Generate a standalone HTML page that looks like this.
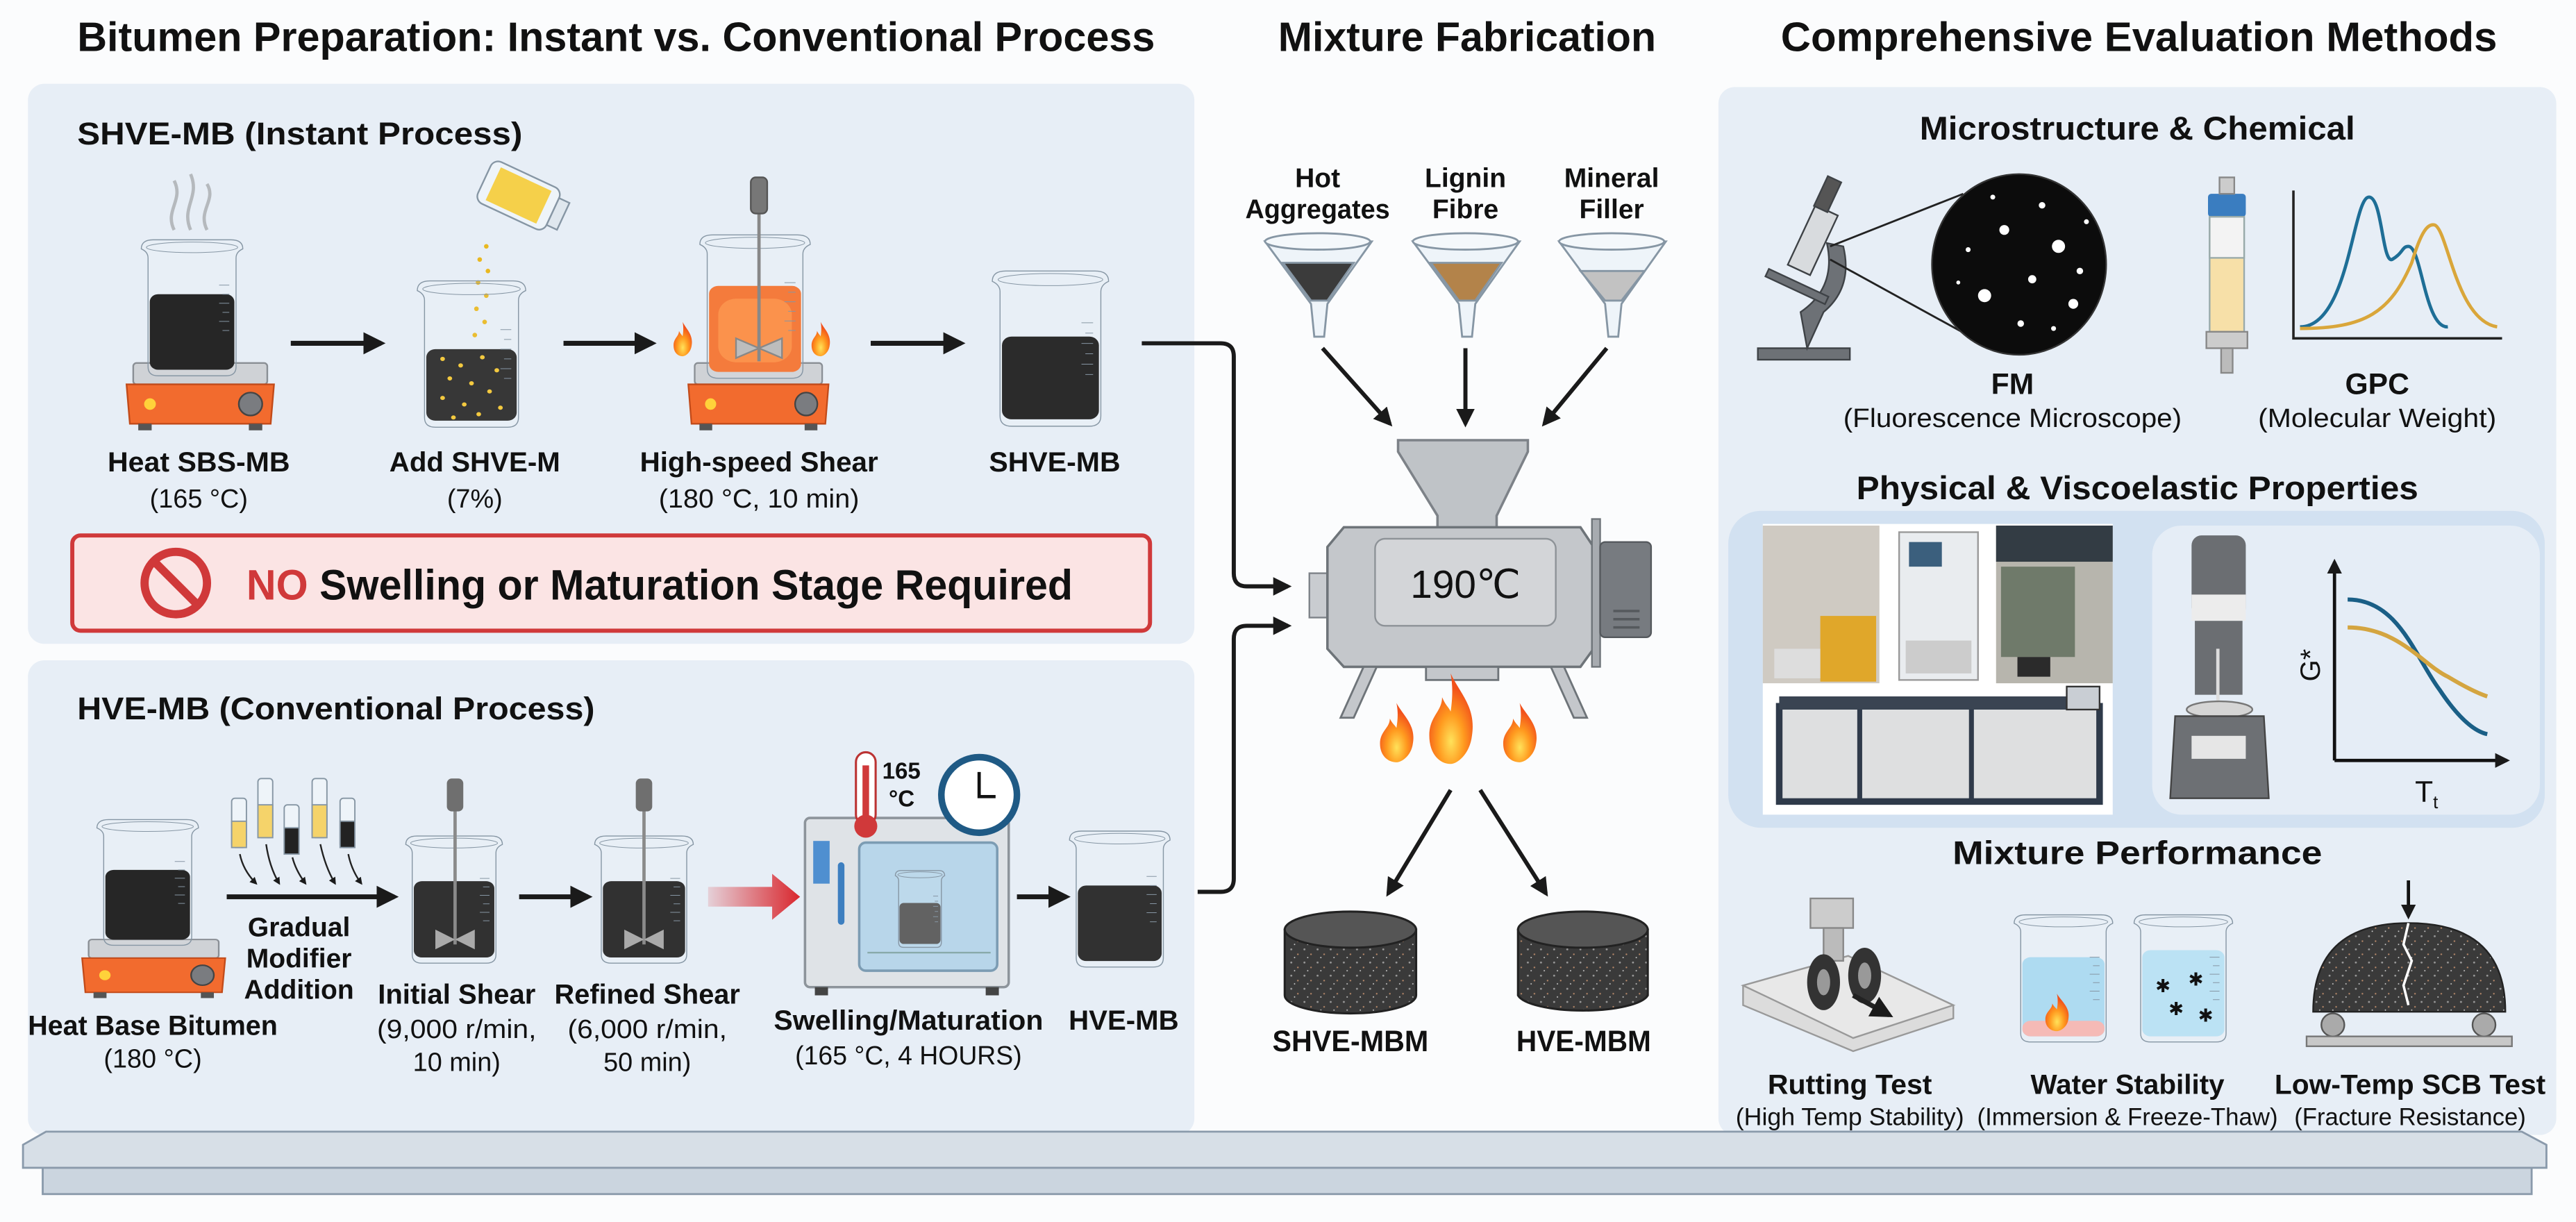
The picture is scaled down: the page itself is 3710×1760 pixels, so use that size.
<!DOCTYPE html>
<html><head><meta charset="utf-8"><style>
html,body{margin:0;padding:0;background:#fbfcfd}
svg{display:block}
text{font-family:"Liberation Sans Narrow","Liberation Sans",sans-serif;fill:#111}
.b{font-weight:bold}
</style></head><body>
<svg width="3710" height="1760" viewBox="0 0 1568 744" preserveAspectRatio="none" xmlns="http://www.w3.org/2000/svg">
<defs>
<marker id="ah" viewBox="0 0 10 10" refX="8" refY="5" markerWidth="4.5" markerHeight="4.5" orient="auto"><path d="M0,0 L10,5 L0,10 Z" fill="#1a1a1a"/></marker>
<g id="gl">
<path d="M0,6 Q0,0 7,0 H53 Q60,0 60,6 Q56,8 56,12 V84 Q56,90 50,90 H10 Q4,90 4,84 V12 Q4,8 0,6 Z" fill="#ffffff" fill-opacity="0.08" stroke="#8696a4" stroke-width="1.4" vector-effect="non-scaling-stroke"/>
<ellipse cx="30" cy="5" rx="27" ry="3.5" fill="none" stroke="#8696a4" stroke-width="1" vector-effect="non-scaling-stroke"/>
<path d="M46,30 H52 M48,36 H52 M46,42 H52 M48,48 H52 M46,54 H52 M48,60 H52" stroke="#8696a4" stroke-width="1" vector-effect="non-scaling-stroke"/>
</g>
<g id="hp">
<rect x="5" y="0" width="80" height="13" rx="2" fill="#cfd2d6" stroke="#8a8f95"/>
<path d="M1,13 H89 L87,37 H3 Z" fill="#f26b2e" stroke="#c24b1a"/>
<circle cx="15" cy="25" r="3.5" fill="#ffd23a"/>
<circle cx="75" cy="25" r="7" fill="#7a7c80" stroke="#444"/>
<rect x="8" y="37" width="8" height="4" fill="#555"/><rect x="74" y="37" width="8" height="4" fill="#555"/>
</g>
<radialGradient id="fl" cx="50%" cy="75%" r="60%"><stop offset="0" stop-color="#ffe25a"/><stop offset="0.5" stop-color="#ff9a1f"/><stop offset="1" stop-color="#f2511b"/></radialGradient>
<g id="flame"><path d="M10,0 C14,8 22,14 20,26 C19,34 13,38 10,38 C5,38 0,34 0,26 C0,18 6,16 6,10 C8,14 9,14 10,16 C11,10 11,5 10,0 Z" fill="url(#fl)"/></g>
<pattern id="asph" width="8" height="8" patternUnits="userSpaceOnUse"><rect width="8" height="8" fill="#3a3a3a"/><circle cx="2" cy="2" r="0.6" fill="#999"/><circle cx="6" cy="5" r="0.5" fill="#b98a6a"/><circle cx="4" cy="7" r="0.4" fill="#ccc"/></pattern>
<linearGradient id="ra" x1="0" x2="1"><stop offset="0" stop-color="#d9272e" stop-opacity="0.15"/><stop offset="1" stop-color="#d9272e"/></linearGradient>
</defs>

<!-- titles -->
<text class="b" x="375" y="31" font-size="25" text-anchor="middle" textLength="656" lengthAdjust="spacingAndGlyphs">Bitumen Preparation: Instant vs. Conventional Process</text>
<text class="b" x="893" y="31" font-size="25" text-anchor="middle" textLength="230" lengthAdjust="spacingAndGlyphs">Mixture Fabrication</text>
<text class="b" x="1302" y="31" font-size="25" text-anchor="middle" textLength="436" lengthAdjust="spacingAndGlyphs">Comprehensive Evaluation Methods</text>

<!-- panels -->
<rect x="17" y="51" width="710" height="341" rx="10" fill="#e7eef6"/>
<rect x="17" y="402" width="710" height="289" rx="10" fill="#e7eef6"/>
<rect x="1046" y="53" width="510" height="638" rx="10" fill="#e7eef6"/>

<!-- platform -->
<path d="M28,689 H1535 L1550,697 V711 H14 V697 Z" fill="#d7dfe7" stroke="#8a9aab" stroke-width="1.2"/>
<rect x="26" y="711" width="1515" height="16" fill="#cbd5df" stroke="#8a9aab" stroke-width="1.2"/>

<!-- ===== SHVE-MB instant ===== -->
<text class="b" x="47" y="88" font-size="19" textLength="271" lengthAdjust="spacingAndGlyphs">SHVE-MB (Instant Process)</text>
<path d="M106,140 C100,128 112,122 106,110 M116,140 C110,126 122,120 116,106 M126,140 C120,128 132,122 126,112" stroke="#b5b9bd" stroke-width="2" fill="none"/>
<use href="#hp" transform="translate(76,221) scale(1.02,1)"/>
<g transform="translate(86,146) scale(1.03,0.92)"><rect x="5" y="36" width="50" height="50" rx="5" fill="#141414"/><use href="#gl"/></g>
<line x1="177" y1="209" x2="232" y2="209" stroke="#1a1a1a" stroke-width="3" marker-end="url(#ah)"/>
<g transform="translate(322,122) rotate(-65)"><rect x="-14" y="-30" width="28" height="46" rx="5" fill="#eef4f9" stroke="#8696a4"/><rect x="-11" y="-24" width="22" height="34" fill="#f5d04a"/><rect x="-9" y="16" width="18" height="7" fill="#dfe7ee" stroke="#8696a4"/></g>
<g fill="#e9b820"><circle cx="296" cy="150" r="1.4"/><circle cx="292" cy="158" r="1.4"/><circle cx="297" cy="165" r="1.4"/><circle cx="291" cy="172" r="1.4"/><circle cx="296" cy="180" r="1.4"/><circle cx="290" cy="188" r="1.4"/><circle cx="295" cy="196" r="1.4"/><circle cx="289" cy="204" r="1.4"/></g>
<g transform="translate(254,171) scale(1.1,0.99)"><rect x="5" y="42" width="50" height="44" rx="5" fill="#262626"/>
<g fill="#f2c530"><circle cx="14" cy="48" r="1.3"/><circle cx="24" cy="52" r="1.3"/><circle cx="36" cy="47" r="1.3"/><circle cx="44" cy="55" r="1.3"/><circle cx="18" cy="60" r="1.3"/><circle cx="30" cy="63" r="1.3"/><circle cx="40" cy="68" r="1.3"/><circle cx="14" cy="72" r="1.3"/><circle cx="26" cy="76" r="1.3"/><circle cx="46" cy="78" r="1.3"/><circle cx="34" cy="82" r="1.3"/><circle cx="20" cy="84" r="1.3"/></g><use href="#gl"/></g>
<line x1="343" y1="209" x2="397" y2="209" stroke="#1a1a1a" stroke-width="3" marker-end="url(#ah)"/>
<use href="#hp" transform="translate(418,221) scale(0.97,1)"/>
<g transform="translate(426,143) scale(1.12,0.97)"><rect x="5" y="32" width="50" height="54" rx="5" fill="#f4702c"/><rect x="10" y="40" width="40" height="40" rx="10" fill="#ff9a4a" opacity="0.6"/><use href="#gl"/></g>
<line x1="462" y1="120" x2="462" y2="220" stroke="#888" stroke-width="2"/>
<rect x="457" y="108" width="10" height="22" rx="3" fill="#777" stroke="#555"/>
<path d="M448,206 L462,212 L476,206 L476,218 L462,212 L448,218 Z" fill="#bdbdbd" stroke="#888"/>
<use href="#flame" transform="translate(410,196) scale(0.55)"/>
<use href="#flame" transform="translate(494,196) scale(0.55)"/>
<line x1="530" y1="209" x2="585" y2="209" stroke="#1a1a1a" stroke-width="3" marker-end="url(#ah)"/>
<g transform="translate(604,165) scale(1.18,1.05)"><rect x="5" y="38" width="50" height="48" rx="5" fill="#1a1a1a"/><use href="#gl"/></g>
<g class="b" font-size="17" text-anchor="middle">
<text x="121" y="287" textLength="111" lengthAdjust="spacingAndGlyphs">Heat SBS-MB</text><text x="289" y="287" textLength="104" lengthAdjust="spacingAndGlyphs">Add SHVE-M</text><text x="462" y="287" textLength="145" lengthAdjust="spacingAndGlyphs">High-speed Shear</text><text x="642" y="287" textLength="80" lengthAdjust="spacingAndGlyphs">SHVE-MB</text></g>
<g font-size="16" text-anchor="middle">
<text x="121" y="309">(165 °C)</text><text x="289" y="309">(7%)</text><text x="462" y="309" textLength="122" lengthAdjust="spacingAndGlyphs">(180 °C, 10 min)</text></g>
<rect x="44" y="326" width="656" height="58" rx="5" fill="#fbe4e4" stroke="#d0393a" stroke-width="2.5"/>
<circle cx="107" cy="355" r="19" fill="none" stroke="#d0393a" stroke-width="5"/>
<line x1="94" y1="342" x2="120" y2="368" stroke="#d0393a" stroke-width="5"/>
<text class="b" x="150" y="365" font-size="26" textLength="503" lengthAdjust="spacingAndGlyphs"><tspan fill="#d0393a">NO</tspan> Swelling or Maturation Stage Required</text>

<path d="M695,209 H743 Q751,209 751,217 V349 Q751,357 759,357 H784" stroke="#1a1a1a" stroke-width="2.5" fill="none" marker-end="url(#ah)"/>
<path d="M729,543 H743 Q751,543 751,535 V389 Q751,381 759,381 H784" stroke="#1a1a1a" stroke-width="2.5" fill="none" marker-end="url(#ah)"/>

<!-- ===== HVE-MB conventional ===== -->
<text class="b" x="47" y="438" font-size="19" textLength="315" lengthAdjust="spacingAndGlyphs">HVE-MB (Conventional Process)</text>
<use href="#hp" transform="translate(49,572) scale(0.99,0.87)"/>
<g transform="translate(59,499) scale(1.03,0.85)"><rect x="5" y="36" width="50" height="50" rx="5" fill="#141414"/><use href="#gl"/></g>
<g stroke="#8696a4" stroke-width="0.8">
<rect x="141" y="486" width="9" height="30" rx="2" fill="#eef4f9"/><rect x="141" y="500" width="9" height="16" fill="#f5d36a"/>
<rect x="157" y="474" width="9" height="36" rx="2" fill="#eef4f9"/><rect x="157" y="490" width="9" height="20" fill="#f5d36a"/>
<rect x="173" y="490" width="9" height="30" rx="2" fill="#eef4f9"/><rect x="173" y="504" width="9" height="16" fill="#222"/>
<rect x="190" y="474" width="9" height="36" rx="2" fill="#eef4f9"/><rect x="190" y="490" width="9" height="20" fill="#f5d36a"/>
<rect x="207" y="486" width="9" height="30" rx="2" fill="#eef4f9"/><rect x="207" y="500" width="9" height="16" fill="#222"/></g>
<g stroke="#222" stroke-width="1" fill="none" marker-end="url(#ah)">
<path d="M146,520 Q148,530 156,538"/><path d="M162,514 Q164,528 170,538"/><path d="M178,522 Q180,530 186,538"/><path d="M195,514 Q198,528 204,538"/><path d="M212,520 Q214,530 220,538"/></g>
<line x1="138" y1="546" x2="240" y2="546" stroke="#1a1a1a" stroke-width="3" marker-end="url(#ah)"/>
<g class="b" font-size="16.5" text-anchor="middle"><text x="182" y="570">Gradual</text><text x="182" y="589">Modifier</text><text x="182" y="608">Addition</text></g>
<g transform="translate(247,509) scale(0.98,0.86)"><rect x="5" y="32" width="50" height="54" rx="5" fill="#202020"/><use href="#gl"/></g>
<line x1="277" y1="482" x2="277" y2="575" stroke="#8a8a8a" stroke-width="2"/><rect x="272" y="474" width="10" height="20" rx="3" fill="#6f6f6f"/>
<path d="M265,566 L277,572 L289,566 L289,578 L277,572 L265,578 Z" fill="#aaa"/>
<line x1="316" y1="546" x2="358" y2="546" stroke="#1a1a1a" stroke-width="3" marker-end="url(#ah)"/>
<g transform="translate(362,509) scale(1,0.86)"><rect x="5" y="32" width="50" height="54" rx="5" fill="#202020"/><use href="#gl"/></g>
<line x1="392" y1="482" x2="392" y2="575" stroke="#8a8a8a" stroke-width="2"/><rect x="387" y="474" width="10" height="20" rx="3" fill="#6f6f6f"/>
<path d="M380,566 L392,572 L404,566 L404,578 L392,572 L380,578 Z" fill="#aaa"/>
<path d="M431,540 H470 V532 L487,546 L470,560 V552 H431 Z" fill="url(#ra)"/>
<rect x="490" y="498" width="124" height="103" rx="3" fill="#dfe3e7" stroke="#8d949b" stroke-width="1.5"/>
<rect x="495" y="512" width="10" height="26" fill="#4f8fd0"/>
<rect x="510" y="525" width="4" height="38" rx="2" fill="#3d7fc0"/>
<rect x="523" y="513" width="84" height="78" rx="4" fill="#b8d6ea" stroke="#7c9cb3" stroke-width="1.5"/>
<line x1="528" y1="580" x2="603" y2="580" stroke="#8aa" stroke-width="1"/>
<g transform="translate(545,530) scale(0.5,0.52)"><rect x="5" y="38" width="50" height="48" rx="5" fill="#555"/><use href="#gl"/></g>
<rect x="496" y="601" width="8" height="5" fill="#444"/><rect x="600" y="601" width="8" height="5" fill="#444"/>
<rect x="521" y="458" width="12" height="44" rx="6" fill="#fff" stroke="#b33" stroke-width="1.3"/>
<rect x="525" y="466" width="4" height="34" fill="#d0393a"/><circle cx="527" cy="503" r="7" fill="#d0393a"/>
<text class="b" x="537" y="474" font-size="14">165</text><text class="b" x="541" y="491" font-size="14">°C</text>
<circle cx="596" cy="484" r="23" fill="#fff" stroke="#1f5a85" stroke-width="4"/>
<path d="M596,470 V485 H606" stroke="#111" stroke-width="2" fill="none"/>
<line x1="619" y1="546" x2="649" y2="546" stroke="#1a1a1a" stroke-width="3" marker-end="url(#ah)"/>
<g transform="translate(651,506) scale(1.02,0.92)"><rect x="5" y="36" width="50" height="50" rx="5" fill="#202020"/><use href="#gl"/></g>
<g class="b" font-size="17" text-anchor="middle">
<text x="93" y="630" textLength="152" lengthAdjust="spacingAndGlyphs">Heat Base Bitumen</text><text x="278" y="611" textLength="96" lengthAdjust="spacingAndGlyphs">Initial Shear</text><text x="394" y="611" textLength="113" lengthAdjust="spacingAndGlyphs">Refined Shear</text><text x="553" y="627" textLength="164" lengthAdjust="spacingAndGlyphs">Swelling/Maturation</text><text x="684" y="627" textLength="67" lengthAdjust="spacingAndGlyphs">HVE-MB</text></g>
<g font-size="16" text-anchor="middle">
<text x="93" y="650">(180 °C)</text><text x="278" y="632" textLength="97" lengthAdjust="spacingAndGlyphs">(9,000 r/min,</text><text x="278" y="652">10 min)</text><text x="394" y="632" textLength="97" lengthAdjust="spacingAndGlyphs">(6,000 r/min,</text><text x="394" y="652">50 min)</text><text x="553" y="648" textLength="138" lengthAdjust="spacingAndGlyphs">(165 °C, 4 HOURS)</text></g>

<!-- ===== Mixture fabrication ===== -->
<g class="b" font-size="16.5" text-anchor="middle">
<text x="802" y="114">Hot</text><text x="802" y="133" textLength="88" lengthAdjust="spacingAndGlyphs">Aggregates</text>
<text x="892" y="114">Lignin</text><text x="892" y="133">Fibre</text>
<text x="981" y="114">Mineral</text><text x="981" y="133">Filler</text></g>
<g stroke="#8696a4" stroke-width="1.2">
<path d="M770,147 L835,147 L808,185 L806,205 L800,205 L798,185 Z" fill="#eef4f9"/>
<path d="M781,160 L824,160 L808,183 L798,183 Z" fill="#3b3b3b"/>
<path d="M860,147 L925,147 L898,185 L896,205 L890,205 L888,185 Z" fill="#eef4f9"/>
<path d="M871,160 L914,160 L898,183 L888,183 Z" fill="#b3834a"/>
<path d="M949,147 L1014,147 L987,185 L985,205 L979,205 L977,185 Z" fill="#eef4f9"/>
<path d="M962,165 L1001,165 L987,183 L977,183 Z" fill="#c2c2c2"/>
<ellipse cx="802" cy="147" rx="32" ry="5" fill="#f4f8fb"/><ellipse cx="892" cy="147" rx="32" ry="5" fill="#f4f8fb"/><ellipse cx="981" cy="147" rx="32" ry="5" fill="#f4f8fb"/></g>
<g stroke="#1a1a1a" stroke-width="2.5" marker-end="url(#ah)">
<line x1="805" y1="212" x2="846" y2="258"/><line x1="892" y1="212" x2="892" y2="258"/><line x1="978" y1="212" x2="940" y2="258"/></g>
<path d="M851,268 H930 V275 L911,314 V322 H875 V314 L851,275 Z" fill="#bfc3c7" stroke="#7d8288" stroke-width="1.5"/>
<rect x="797" y="349" width="13" height="27" fill="#c9ccd0" stroke="#7d8288"/>
<path d="M818,321 H962 L970,333 V395 L962,406 H818 L808,395 V333 Z" fill="#c4c7cb" stroke="#6e7479" stroke-width="1.5"/>
<rect x="837" y="328" width="110" height="53" rx="6" fill="#d3d5d8" stroke="#8d9297"/>
<rect x="969" y="316" width="5" height="90" fill="#a7abb0" stroke="#6e7479"/>
<rect x="974" y="330" width="31" height="58" rx="3" fill="#777b80" stroke="#55595d"/>
<g stroke="#55595d" stroke-width="1.5"><line x1="982" y1="372" x2="998" y2="372"/><line x1="982" y1="377" x2="998" y2="377"/><line x1="982" y1="382" x2="998" y2="382"/></g>
<text x="892" y="364" font-size="24" text-anchor="middle">190℃</text>
<g fill="#c4c7cb" stroke="#6e7479" stroke-width="1.2">
<path d="M830,406 L838,406 L824,437 L816,437 Z"/><path d="M944,406 L952,406 L966,437 L958,437 Z"/>
<rect x="868" y="406" width="44" height="8"/></g>
<use href="#flame" transform="translate(840,428) scale(1,0.95)"/>
<use href="#flame" transform="translate(870,410) scale(1.3,1.45)"/>
<use href="#flame" transform="translate(915,428) scale(1,0.95)"/>
<g stroke="#1a1a1a" stroke-width="2.5" marker-end="url(#ah)"><line x1="883" y1="481" x2="845" y2="544"/><line x1="901" y1="481" x2="941" y2="544"/></g>
<g stroke="#222" stroke-width="1.3">
<path d="M782,566 V606 A40,11 0 0 0 862,606 V566 Z" fill="url(#asph)"/><ellipse cx="822" cy="566" rx="40" ry="11" fill="#555"/>
<path d="M924,566 V606 A40,11 0 0 0 1003,606 V566 Z" fill="url(#asph)"/><ellipse cx="963.5" cy="566" rx="39.5" ry="11" fill="#555"/></g>
<g class="b" font-size="18" text-anchor="middle"><text x="822" y="640" textLength="95" lengthAdjust="spacingAndGlyphs">SHVE-MBM</text><text x="964" y="640" textLength="82" lengthAdjust="spacingAndGlyphs">HVE-MBM</text></g>

<!-- ===== Right panel ===== -->
<text class="b" x="1301" y="85" font-size="20" text-anchor="middle" textLength="265" lengthAdjust="spacingAndGlyphs">Microstructure &amp; Chemical</text>
<g fill="#6d7176" stroke="#3e4246" stroke-width="1">
<rect x="1070" y="212" width="56" height="7"/><path d="M1100,212 L1110,190 Q1128,175 1122,150 L1112,148 Q1118,175 1096,190 Z"/>
<rect x="1096" y="126" width="15" height="40" transform="rotate(25 1103 146)" fill="#d8dbde"/>
<rect x="1108" y="108" width="9" height="20" transform="rotate(25 1112 118)" fill="#555"/>
<rect x="1074" y="172" width="40" height="5" transform="rotate(25 1094 174)"/></g>
<line x1="1114" y1="150" x2="1195" y2="118" stroke="#222" stroke-width="1.2"/><line x1="1114" y1="158" x2="1205" y2="208" stroke="#222" stroke-width="1.2"/>
<ellipse cx="1229" cy="161" rx="53" ry="55" fill="#0c0c0c" stroke="#333"/>
<g fill="#fff"><circle cx="1220" cy="140" r="3"/><circle cx="1243" cy="125" r="2"/><circle cx="1253" cy="150" r="4"/><circle cx="1208" cy="180" r="4"/><circle cx="1237" cy="170" r="2.5"/><circle cx="1262" cy="185" r="3"/><circle cx="1198" cy="152" r="1.5"/><circle cx="1230" cy="197" r="2"/><circle cx="1270" cy="135" r="1.5"/><circle cx="1213" cy="120" r="1.5"/><circle cx="1250" cy="200" r="1.5"/><circle cx="1192" cy="172" r="1.2"/><circle cx="1266" cy="165" r="2"/></g>
<rect x="1344" y="118" width="23" height="14" rx="2" fill="#3a7dc0"/><rect x="1351" y="108" width="9" height="10" fill="#ccc" stroke="#888"/>
<rect x="1345" y="132" width="21" height="70" fill="#f7e0a8" stroke="#9aa"/><rect x="1345" y="132" width="21" height="25" fill="#f3f3f3" stroke="#9aa"/>
<rect x="1343" y="202" width="25" height="10" fill="#ccc" stroke="#888"/><rect x="1352" y="212" width="7" height="15" fill="#bbb" stroke="#888"/>
<path d="M1396,116 V206 H1523" stroke="#222" stroke-width="1.5" fill="none"/>
<path d="M1400,199 C1430,199 1432,120 1442,120 C1450,120 1450,160 1456,158 C1463,154 1462,150 1466,150 C1474,150 1476,200 1490,199" stroke="#1e6e96" stroke-width="2" fill="none"/>
<path d="M1400,200 C1440,200 1455,190 1468,160 C1474,140 1478,136 1482,137 C1490,140 1495,195 1520,199" stroke="#d9a63a" stroke-width="2" fill="none"/>
<text class="b" x="1225" y="240" font-size="18" text-anchor="middle">FM</text>
<text x="1225" y="260" font-size="16" text-anchor="middle" textLength="206" lengthAdjust="spacingAndGlyphs">(Fluorescence Microscope)</text>
<text class="b" x="1447" y="240" font-size="18" text-anchor="middle">GPC</text>
<text x="1447" y="260" font-size="16" text-anchor="middle" textLength="145" lengthAdjust="spacingAndGlyphs">(Molecular Weight)</text>

<text class="b" x="1301" y="304" font-size="20" text-anchor="middle" textLength="342" lengthAdjust="spacingAndGlyphs">Physical &amp; Viscoelastic Properties</text>
<rect x="1052" y="311" width="497" height="193" rx="20" fill="#d2e1f1"/>
<rect x="1073" y="319" width="213" height="177" fill="#fff"/>
<rect x="1073" y="320" width="71" height="96" fill="#cfcac2"/><rect x="1108" y="375" width="34" height="40" fill="#e0a72a"/><rect x="1080" y="395" width="28" height="18" fill="#ddd"/>
<rect x="1156" y="324" width="48" height="90" fill="#e9ecef" stroke="#999"/><rect x="1162" y="330" width="20" height="15" fill="#3b5f7d"/><rect x="1160" y="390" width="40" height="20" fill="#ccc"/>
<rect x="1215" y="320" width="71" height="96" fill="#b7b5ad"/><rect x="1218" y="345" width="45" height="55" fill="#6f7a6a"/><rect x="1215" y="320" width="71" height="22" fill="#333c44"/><rect x="1228" y="400" width="20" height="12" fill="#2b2b2b"/>
<rect x="1083" y="430" width="195" height="58" fill="#dedfe0" stroke="#2f3a4a" stroke-width="4"/>
<rect x="1083" y="424" width="175" height="8" fill="#3a4452"/><rect x="1258" y="418" width="20" height="14" fill="#c9ced4" stroke="#333"/>
<line x1="1132" y1="432" x2="1132" y2="488" stroke="#2f3a4a" stroke-width="3"/><line x1="1200" y1="432" x2="1200" y2="488" stroke="#2f3a4a" stroke-width="3"/>
<rect x="1310" y="320" width="236" height="176" rx="18" fill="#e5edf6"/>
<rect x="1334" y="326" width="33" height="50" rx="6" fill="#6b6e72"/><rect x="1334" y="362" width="33" height="16" fill="#ececec"/>
<rect x="1336" y="378" width="29" height="45" fill="#6b6e72"/><line x1="1350" y1="395" x2="1350" y2="432" stroke="#ddd" stroke-width="2"/>
<ellipse cx="1351" cy="432" rx="20" ry="5" fill="#d5d5d5" stroke="#777"/>
<path d="M1324,436 L1378,436 L1381,486 L1321,486 Z" fill="#6d7074" stroke="#444"/>
<rect x="1334" y="448" width="33" height="14" fill="#e6e6e6"/>
<path d="M1421,463 V342" stroke="#111" stroke-width="2" marker-end="url(#ah)"/>
<path d="M1421,463 H1526" stroke="#111" stroke-width="2" marker-end="url(#ah)"/>
<path d="M1429,365 C1460,365 1470,400 1485,420 C1495,435 1505,445 1514,447" stroke="#1a5f86" stroke-width="2.5" fill="none"/>
<path d="M1429,382 C1460,382 1475,405 1490,412 C1500,418 1508,422 1514,424" stroke="#d4a540" stroke-width="2.5" fill="none"/>
<text x="1412" y="405" font-size="17" transform="rotate(-90 1412 405)" text-anchor="middle">G*</text>
<text x="1470" y="488" font-size="18">T<tspan font-size="11" dy="4">t</tspan></text>

<text class="b" x="1301" y="526" font-size="20" text-anchor="middle" textLength="225" lengthAdjust="spacingAndGlyphs">Mixture Performance</text>
<path d="M1061,600 L1125,582 L1189,612 L1189,620 L1128,640 L1061,612 Z" fill="#dcdcdc" stroke="#999"/>
<path d="M1061,600 L1125,582 L1189,612 L1128,632 Z" fill="#e8e8e8" stroke="#999"/>
<rect x="1102" y="547" width="26" height="18" fill="#ccc" stroke="#888"/><rect x="1110" y="565" width="12" height="20" fill="#bbb" stroke="#888"/>
<ellipse cx="1110" cy="598" rx="10" ry="17" fill="#333"/><ellipse cx="1110" cy="598" rx="4" ry="8" fill="#999"/>
<ellipse cx="1135" cy="594" rx="10" ry="17" fill="#333"/><ellipse cx="1135" cy="594" rx="4" ry="8" fill="#999"/>
<line x1="1128" y1="606" x2="1150" y2="618" stroke="#222" stroke-width="3" marker-end="url(#ah)"/>
<g transform="translate(1226,557) scale(1,0.86)"><rect x="5" y="30" width="50" height="56" rx="5" fill="#a8d8f0"/><rect x="5" y="75" width="50" height="11" rx="5" fill="#f5b5b0"/><use href="#gl"/></g>
<use href="#flame" transform="translate(1245,605) scale(0.7,0.6)"/>
<g transform="translate(1299,557) scale(1,0.86)"><rect x="5" y="25" width="50" height="61" rx="5" fill="#b6e0f4"/><use href="#gl"/></g>
<g fill="#3a8fc8" font-size="11"><text x="1312" y="604" fill="#3a8fc8">✱</text><text x="1332" y="600" fill="#3a8fc8">✱</text><text x="1320" y="618" fill="#3a8fc8">✱</text><text x="1338" y="622" fill="#3a8fc8">✱</text></g>
<path d="M1408,616 Q1408,562 1466,562 Q1525,562 1525,616 Z" fill="url(#asph)" stroke="#222"/>
<path d="M1466,562 L1463,575 L1468,585 L1463,600 L1466,612" stroke="#fff" stroke-width="1.5" fill="none"/>
<line x1="1466" y1="536" x2="1466" y2="558" stroke="#111" stroke-width="2" marker-end="url(#ah)"/>
<circle cx="1420" cy="624" r="7" fill="#aaa" stroke="#555"/><circle cx="1512" cy="624" r="7" fill="#aaa" stroke="#555"/>
<rect x="1404" y="631" width="125" height="6" fill="#c8c8c8" stroke="#777"/>
<g class="b" font-size="17" text-anchor="middle"><text x="1126" y="666" textLength="100" lengthAdjust="spacingAndGlyphs">Rutting Test</text><text x="1295" y="666" textLength="118" lengthAdjust="spacingAndGlyphs">Water Stability</text><text x="1467" y="666" textLength="165" lengthAdjust="spacingAndGlyphs">Low-Temp SCB Test</text></g>
<g font-size="15" text-anchor="middle"><text x="1126" y="685" textLength="139" lengthAdjust="spacingAndGlyphs">(High Temp Stability)</text><text x="1295" y="685" textLength="183" lengthAdjust="spacingAndGlyphs">(Immersion &amp; Freeze-Thaw)</text><text x="1467" y="685" textLength="141" lengthAdjust="spacingAndGlyphs">(Fracture Resistance)</text></g>
</svg>
</body></html>
